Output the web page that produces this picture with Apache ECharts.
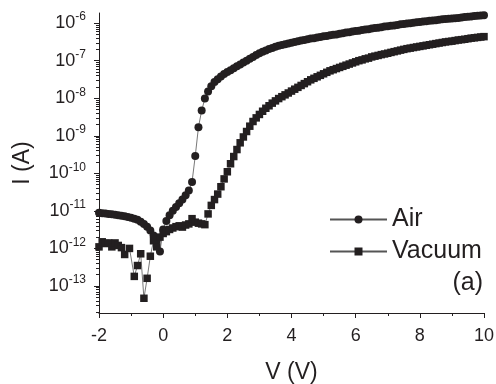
<!DOCTYPE html>
<html>
<head>
<meta charset="utf-8">
<script src="https://cdn.jsdelivr.net/npm/echarts@6/dist/echarts.min.js"></script>
<style>
  html, body { margin: 0; background: #fff; }
  #chart { width: 496px; height: 384px; }
</style>
</head>
<body>
<div id="chart"></div>
<script>
// I-V sweep, current in A
const airV = [-2.0, -1.9, -1.8, -1.7, -1.6, -1.5, -1.4, -1.3, -1.2, -1.1,
  -1.0, -0.9, -0.8, -0.7, -0.6, -0.5, -0.4, -0.3, -0.2, -0.1,
  0.0, 0.1, 0.2, 0.3, 0.4, 0.5, 0.6, 0.7, 0.8, 0.9,
  1.0, 1.1, 1.2, 1.3, 1.4, 1.5, 1.6, 1.7, 1.8, 1.9,
  2.0, 2.1, 2.2, 2.3, 2.4, 2.5, 2.6, 2.7, 2.8, 2.9,
  3.0, 3.1, 3.2, 3.3, 3.4, 3.5, 3.6, 3.7, 3.8, 3.9,
  4.0, 4.1, 4.2, 4.3, 4.4, 4.5, 4.6, 4.7, 4.8, 4.9,
  5.0, 5.1, 5.2, 5.3, 5.4, 5.5, 5.6, 5.7, 5.8, 5.9,
  6.0, 6.1, 6.2, 6.3, 6.4, 6.5, 6.6, 6.7, 6.8, 6.9,
  7.0, 7.1, 7.2, 7.3, 7.4, 7.5, 7.6, 7.7, 7.8, 7.9,
  8.0, 8.1, 8.2, 8.3, 8.4, 8.5, 8.6, 8.7, 8.8, 8.9,
  9.0, 9.1, 9.2, 9.3, 9.4, 9.5, 9.6, 9.7, 9.8, 9.9,
  10.0]
const airI = [8.9e-12, 8.7e-12, 8.5e-12, 8.3e-12, 8.1e-12, 7.9e-12, 7.7e-12, 7.4e-12, 7.2e-12, 6.9e-12,
  6.6e-12, 6.2e-12, 5.8e-12, 5.1e-12, 4.5e-12, 3.8e-12, 3.0e-12, 2.2e-12, 1.6e-12, 8.3e-13,
  3.2e-12, 5.4e-12, 7.6e-12, 1.0e-11, 1.26e-11, 1.6e-11, 2.0e-11, 2.6e-11, 3.5e-11, 5.9e-11,
  2.9e-10, 1.7e-9, 4.7e-9, 9.8e-9, 1.5e-8, 2.1e-8, 2.7e-8, 3.2e-8, 3.8e-8, 4.4e-8,
  5.0e-8, 5.6e-8, 6.3e-8, 7.1e-8, 7.9e-8, 8.9e-8, 1.0e-7, 1.12e-7, 1.26e-7, 1.41e-7,
  1.58e-7, 1.74e-7, 1.86e-7, 2.04e-7, 2.19e-7, 2.34e-7, 2.51e-7, 2.63e-7, 2.75e-7, 2.88e-7,
  3.02e-7, 3.16e-7, 3.31e-7, 3.47e-7, 3.55e-7, 3.72e-7, 3.89e-7, 3.98e-7, 4.17e-7, 4.27e-7,
  4.47e-7, 4.57e-7, 4.79e-7, 4.9e-7, 5.0e-7, 5.25e-7, 5.37e-7, 5.62e-7, 5.75e-7, 6.03e-7,
  6.17e-7, 6.31e-7, 6.61e-7, 6.76e-7, 6.92e-7, 7.24e-7, 7.41e-7, 7.59e-7, 7.76e-7, 8.13e-7,
  8.32e-7, 8.51e-7, 8.71e-7, 8.91e-7, 9.33e-7, 9.55e-7, 9.77e-7, 1.0e-6, 1.02e-6, 1.05e-6,
  1.07e-6, 1.10e-6, 1.12e-6, 1.15e-6, 1.17e-6, 1.20e-6, 1.23e-6, 1.26e-6, 1.29e-6, 1.30e-6,
  1.32e-6, 1.35e-6, 1.38e-6, 1.41e-6, 1.45e-6, 1.48e-6, 1.51e-6, 1.55e-6, 1.58e-6, 1.60e-6,
  1.62e-6]

const vacV = [-2.0, -1.9, -1.8, -1.7, -1.6, -1.5, -1.4, -1.3, -1.2, -1.05,
  -0.9, -0.8, -0.7, -0.6, -0.5, -0.4, -0.3, -0.2, -0.1,
  0.0, 0.1, 0.2, 0.3, 0.4, 0.5, 0.6, 0.7, 0.8, 0.9,
  1.0, 1.1, 1.2, 1.3, 1.4, 1.5, 1.6, 1.7, 1.8, 1.9,
  2.0, 2.1, 2.2, 2.3, 2.4, 2.5, 2.6, 2.7, 2.8, 2.9,
  3.0, 3.1, 3.2, 3.3, 3.4, 3.5, 3.6, 3.7, 3.8, 3.9,
  4.0, 4.1, 4.2, 4.3, 4.4, 4.5, 4.6, 4.7, 4.8, 4.9,
  5.0, 5.1, 5.2, 5.3, 5.4, 5.5, 5.6, 5.7, 5.8, 5.9,
  6.0, 6.1, 6.2, 6.3, 6.4, 6.5, 6.6, 6.7, 6.8, 6.9,
  7.0, 7.1, 7.2, 7.3, 7.4, 7.5, 7.6, 7.7, 7.8, 7.9,
  8.0, 8.1, 8.2, 8.3, 8.4, 8.5, 8.6, 8.7, 8.8, 8.9,
  9.0, 9.1, 9.2, 9.3, 9.4, 9.5, 9.6, 9.7, 9.8, 9.9,
  10.0]
const vacI = [1.1e-12, 1.5e-12, 1.35e-12, 1.4e-12, 1.1e-12, 1.4e-12, 1.2e-12, 1.05e-12, 6.9e-13, 1.0e-12,
  1.8e-13, 3.5e-13, 7.2e-13, 4.7e-14, 1.6e-13, 6.2e-13, 1.6e-12, 1.1e-12, 2.0e-12,
  2.5e-12, 2.8e-12, 3.2e-12, 3.5e-12, 3.8e-12, 4.0e-12, 3.7e-12, 4.2e-12, 4.5e-12, 6.2e-12,
  5.0e-12, 4.7e-12, 4.5e-12, 4.3e-12, 8.3e-12, 1.4e-11, 2.0e-11, 2.8e-11, 4.4e-11, 7.1e-11,
  1.1e-10, 1.8e-10, 2.8e-10, 4.3e-10, 6.5e-10, 9.3e-10, 1.3e-9, 1.8e-9, 2.4e-9, 3.0e-9,
  3.7e-9, 4.5e-9, 5.4e-9, 6.3e-9, 7.4e-9, 8.5e-9, 9.8e-9, 1.1e-8, 1.23e-8, 1.38e-8,
  1.55e-8, 1.74e-8, 1.95e-8, 2.19e-8, 2.45e-8, 2.75e-8, 3.09e-8, 3.39e-8, 3.72e-8, 4.07e-8,
  4.47e-8, 4.9e-8, 5.37e-8, 5.75e-8, 6.17e-8, 6.61e-8, 7.08e-8, 7.59e-8, 8.13e-8, 8.71e-8,
  9.33e-8, 1.0e-7, 1.05e-7, 1.12e-7, 1.17e-7, 1.26e-7, 1.32e-7, 1.38e-7, 1.45e-7, 1.51e-7,
  1.58e-7, 1.66e-7, 1.74e-7, 1.82e-7, 1.91e-7, 2.0e-7, 2.09e-7, 2.16e-7, 2.24e-7, 2.32e-7,
  2.4e-7, 2.48e-7, 2.57e-7, 2.66e-7, 2.75e-7, 2.85e-7, 2.95e-7, 3.05e-7, 3.16e-7, 3.24e-7,
  3.31e-7, 3.43e-7, 3.55e-7, 3.63e-7, 3.72e-7, 3.85e-7, 3.98e-7, 4.07e-7, 4.17e-7, 4.27e-7,
  4.37e-7]

// decade exponents that get a label
const yExponents = [-13, -12, -11, -10, -9, -8, -7, -6]

const INK = '#231f20'
const FONT = '"Liberation Sans", Arial, Helvetica, sans-serif'
const Y_MIN = -13.72
const Y_MAX = -5.73

// minor log ticks (2..9 x 10^n) inside the visible range
const minorTicks = []
for (let e = -14; e <= -6; e++) {
  for (let k = 2; k <= 9; k++) {
    const v = e + Math.log10(k)
    if (v > Y_MIN && v < Y_MAX) minorTicks.push(v)
  }
}

const toPoints = (vs, is) => vs.map((v, i) => [v, Math.log10(is[i])])

const chart = echarts.init(document.getElementById('chart'), null, { renderer: 'canvas' })

const baseY = {
  type: 'value',
  min: Y_MIN,
  max: Y_MAX,
  position: 'left',
  splitLine: { show: false },
}

chart.setOption({
  animation: false,
  backgroundColor: '#fff',
  textStyle: { fontFamily: FONT, color: INK },
  // fixed plot box, don't let v6 shrink it to fit labels
  grid: { left: 99, right: 12, top: 13, bottom: 71, containLabel: false, outerBoundsMode: 'none' },
  xAxis: {
    type: 'value',
    min: -2,
    max: 10,
    interval: 2,
    name: 'V (V)',
    nameLocation: 'middle',
    nameGap: 48,
    nameTextStyle: { fontSize: 23, color: INK, fontFamily: FONT },
    axisLine: { onZero: false, lineStyle: { color: INK, width: 1 } },
    axisTick: { length: 5, lineStyle: { color: INK } },
    minorTick: { show: true, splitNumber: 2, length: 3, lineStyle: { color: INK } },
    splitLine: { show: false },
    axisLabel: { fontSize: 18, margin: 14, color: INK, fontFamily: FONT },
  },
  yAxis: [
    {
      ...baseY,
      name: 'I (A)',
      nameLocation: 'middle',
      nameGap: 65,
      nameTextStyle: { fontSize: 23, color: INK, fontFamily: FONT },
      axisLine: { onZero: false, lineStyle: { color: INK, width: 1 } },
      axisTick: { length: 5, customValues: yExponents, lineStyle: { color: INK } },
      axisLabel: {
        customValues: yExponents,
        margin: 13,
        formatter: v => `{b|10}{s|${Math.round(v)}}`,
        rich: {
          b: { fontSize: 18, color: INK, fontFamily: FONT },
          s: { fontSize: 12, color: INK, fontFamily: FONT, padding: [0, 0, 12, 0] },
        },
      },
    },
    {
      ...baseY,
      axisLine: { show: false, onZero: false },
      axisTick: { length: 3, customValues: minorTicks, lineStyle: { color: INK } },
      axisLabel: { show: false },
    },
  ],
  legend: {
    orient: 'vertical',
    left: 324,
    top: 202,
    itemWidth: 57,
    itemHeight: 10,
    itemGap: 7,
    textStyle: { fontSize: 25, color: INK, fontFamily: FONT, lineHeight: 25 },
    data: ['Air', 'Vacuum'],
  },
  graphic: [
    {
      type: 'text',
      right: 13,
      top: 271,
      style: { text: '(a)', fontSize: 25, fontFamily: FONT, fill: INK },
    },
  ],
  series: [
    {
      name: 'Air',
      type: 'line',
      data: toPoints(airV, airI),
      symbol: 'circle',
      symbolSize: 8,
      itemStyle: { color: INK },
      lineStyle: { color: '#555', width: 0.8 },
    },
    {
      name: 'Vacuum',
      type: 'line',
      data: toPoints(vacV, vacI),
      symbol: 'rect',
      symbolSize: 7.5,
      itemStyle: { color: INK },
      lineStyle: { color: '#555', width: 0.8 },
    },
  ],
})
</script>
</body>
</html>
